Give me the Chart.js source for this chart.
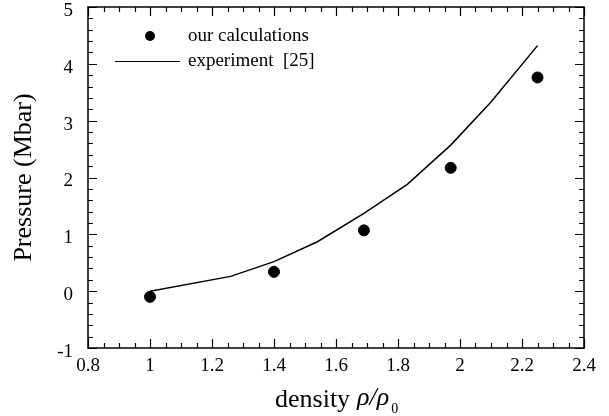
<!DOCTYPE html>
<html>
<head>
<meta charset="utf-8">
<script src="https://cdn.jsdelivr.net/npm/chart.js@4/dist/chart.umd.min.js"></script>
<style>
  html, body { margin: 0; padding: 0; background: #fff; }
  #wrap { width: 609px; height: 416px; }
</style>
</head>
<body>
<div id="wrap"><canvas id="pressureChart"></canvas></div>
<script>
// Dữ liệu
const calcDensity = [1.0, 1.4, 1.69, 1.97, 2.25];
const calcPressure = [-0.1, 0.34, 1.07, 2.17, 3.76];

const expDensity = [1.0, 1.26, 1.4, 1.54, 1.69, 1.83, 1.97, 2.10, 2.25];
const expPressure = [0.0, 0.26, 0.52, 0.87, 1.37, 1.88, 2.57, 3.33, 4.32];

const xTicks = [0.8, 1, 1.2, 1.4, 1.6, 1.8, 2, 2.2, 2.4];
const yTicks = [-1, 0, 1, 2, 3, 4, 5];

const serif = '"Liberation Serif", "Times New Roman", serif';

// Khung, vạch chia, nhãn trục y, chú thích và nhãn trục x
const framePlugin = {
    id: 'frame',
    afterDraw(chart) {
        const ctx = chart.ctx;
        const a = chart.chartArea;
        const xs = chart.scales.x, ys = chart.scales.y;
        ctx.save();
        ctx.strokeStyle = '#000';
        ctx.lineWidth = 1.5;
        ctx.strokeRect(a.left, a.top, a.right - a.left, a.bottom - a.top);

        ctx.lineWidth = 1.2;
        ctx.beginPath();
        // vạch trục x (trên và dưới)
        for (let i = 0; i <= 32; i++) {
            const v = 0.8 + i * 0.05;
            const px = Math.round(xs.getPixelForValue(v)) + 0.5;
            const len = (i % 4 === 0) ? 9 : 5;
            ctx.moveTo(px, a.bottom); ctx.lineTo(px, a.bottom - len);
            ctx.moveTo(px, a.top); ctx.lineTo(px, a.top + len);
        }
        // vạch trục y (trái và phải)
        for (let i = 0; i <= 30; i++) {
            const v = -1 + i * 0.2;
            const py = Math.round(ys.getPixelForValue(v)) + 0.5;
            const len = (i % 5 === 0) ? 9 : 5;
            ctx.moveTo(a.left, py); ctx.lineTo(a.left + len, py);
            ctx.moveTo(a.right, py); ctx.lineTo(a.right - len, py);
        }
        ctx.stroke();

        // nhãn trục y (hơi lệch xuống như bản gốc)
        ctx.fillStyle = '#000';
        ctx.font = '19px ' + serif;
        ctx.textAlign = 'right';
        ctx.textBaseline = 'middle';
        yTicks.forEach(v => {
            ctx.fillText(String(v), a.left - 15, ys.getPixelForValue(v) + 4);
        });

        // chú thích
        ctx.beginPath();
        ctx.arc(150, 36, 5, 0, Math.PI * 2);
        ctx.fill();
        ctx.lineWidth = 1.2;
        ctx.beginPath();
        ctx.moveTo(115, 61.5); ctx.lineTo(180, 61.5);
        ctx.stroke();
        ctx.textBaseline = 'alphabetic';
        ctx.textAlign = 'left';
        ctx.fillText('our calculations', 188, 41);
        ctx.fillText('experiment  [25]', 188, 66);

        // nhãn trục x
        ctx.font = '26px ' + serif;
        ctx.fillText('density', 275, 407);
        ctx.font = 'italic 26px ' + serif;
        ctx.fillText('ρ/ρ', 357, 405);
        const w = ctx.measureText('ρ/ρ').width;
        ctx.font = '14px ' + serif;
        ctx.fillText('0', 357 + w + 2, 413);
        ctx.restore();
    }
};

const config = {
    type: 'scatter',
    data: {
        datasets: [{
            label: 'experiment [25]',
            data: expDensity.map((x, i) => ({ x: x, y: expPressure[i] })),
            showLine: true,
            borderColor: '#000',
            borderWidth: 1.5,
            pointRadius: 0,
            tension: 0
        }, {
            label: 'our calculations',
            data: calcDensity.map((x, i) => ({ x: x, y: calcPressure[i] })),
            showLine: false,
            backgroundColor: '#000',
            borderColor: '#000',
            pointRadius: 5.5,
            pointHoverRadius: 5.5
        }]
    },
    options: {
        responsive: false,
        animation: false,
        layout: { padding: { left: 0, top: 7, right: 25, bottom: 0 } },
        plugins: {
            legend: { display: false },
            tooltip: { enabled: false }
        },
        scales: {
            x: {
                type: 'linear',
                min: 0.8, max: 2.4,
                grid: { display: false, drawTicks: false },
                border: { display: false },
                afterBuildTicks: s => { s.ticks = xTicks.map(v => ({ value: v })); },
                afterFit: s => { s.height = 68; s.paddingLeft = 0; s.paddingRight = 0; },
                ticks: {
                    color: '#000',
                    font: { family: serif, size: 19 },
                    padding: 7,
                    maxRotation: 0,
                    autoSkip: false,
                    callback: v => String(Number(v.toFixed(1)))
                }
            },
            y: {
                type: 'linear',
                min: -1, max: 5,
                grid: { display: false, drawTicks: false },
                border: { display: false },
                afterBuildTicks: s => { s.ticks = yTicks.map(v => ({ value: v })); },
                afterFit: s => { s.width = 88; s.paddingTop = 0; s.paddingBottom = 0; },
                ticks: { display: false },
                title: {
                    display: true,
                    text: 'Pressure (Mbar)',
                    color: '#000',
                    font: { family: serif, size: 26 },
                    padding: { top: 9, bottom: 0 }
                }
            }
        }
    },
    plugins: [framePlugin]
};

const canvas = document.getElementById('pressureChart');
canvas.width = 609;
canvas.height = 416;
new Chart(canvas.getContext('2d'), config);
</script>
</body>
</html>
